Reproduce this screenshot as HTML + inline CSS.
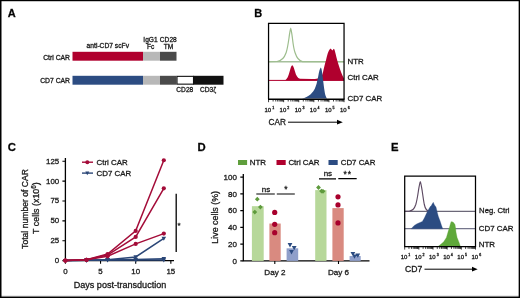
<!DOCTYPE html>
<html><head><meta charset="utf-8">
<style>
html,body{margin:0;padding:0;background:#fff;}
body{width:520px;height:298px;overflow:hidden;position:relative;}
svg{display:block;filter:blur(0.45px);}
text{font-family:"Liberation Sans",sans-serif;fill:#1a1a1a;stroke:#1a1a1a;stroke-width:0.3px;}
.b{font-weight:bold;fill:#000;}
</style></head>
<body>
<svg width="520" height="298" viewBox="0 0 520 298">
<rect x="0" y="0" width="520" height="298" fill="#fff"/>
<text class="b" x="7.8" y="16.8" font-size="11">A</text>
<text x="107.8" y="48.1" font-size="6.7" text-anchor="middle">anti-CD7 scFv</text>
<text x="150.5" y="42" font-size="6.6" text-anchor="middle">IgG1</text>
<text x="150.6" y="48.8" font-size="6.6" text-anchor="middle">Fc</text>
<text x="168.3" y="42" font-size="6.6" text-anchor="middle">CD28</text>
<text x="168.5" y="49" font-size="6.6" text-anchor="middle">TM</text>
<text x="70" y="59.5" font-size="6.8" text-anchor="end">Ctrl CAR</text>
<text x="70" y="83.2" font-size="6.8" text-anchor="end">CD7 CAR</text>
<rect x="72.5" y="51.8" width="70.5" height="8.9" fill="#b0002e"/>
<rect x="143" y="51.8" width="17" height="8.9" fill="#b8b8b8"/>
<rect x="160" y="51.8" width="16.5" height="8.9" fill="#4a4a4a"/>
<rect x="72.5" y="75.8" width="70.5" height="8.9" fill="#2c4c82"/>
<rect x="143" y="75.8" width="17" height="8.9" fill="#b8b8b8"/>
<rect x="160" y="75.8" width="16.5" height="8.9" fill="#4a4a4a"/>
<rect x="177" y="76.35" width="16.5" height="7.8" fill="#fff" stroke="#111" stroke-width="1.1"/>
<rect x="193.3" y="75.8" width="30.2" height="8.9" fill="#111"/>
<text x="184.8" y="91.9" font-size="6.6" text-anchor="middle">CD28</text>
<text x="200" y="91.9" font-size="6.6">CD3ζ</text>
<text class="b" x="254.2" y="17.0" font-size="11">B</text>
<line x1="268.55" y1="61.75" x2="344" y2="61.75" stroke="#a6c09c" stroke-width="1.3"/>
<path d="M268.55,61.75 L277,61.5 C281,61 284.5,57.5 286.2,52.5 C287,50 288,45 289,38 C289.6,33.5 290.1,29.5 290.7,28.6 C291.3,29.5 291.8,33.5 292.4,38 C293.2,45 294.1,50 295,52.5 C296.6,57.5 299,61 302.5,61.6 L344,61.75" fill="none" stroke="#9dbd8d" stroke-width="1.2"/>
<path d="M268.5,80.4 L285,80.2 C287.5,79.5 289,74 290.5,68.5 C291.3,65.8 292,65.2 292.6,65.4 C293.4,65.8 294,68 295,71.5 C296,75.5 297.5,78 300,78.8 L312,79 C314,78.9 316,78.7 317.8,78.4 C319.5,77.8 320.8,77 321.7,75.9 C322.6,74 323.1,72 323.6,69.5 C324.2,67 324.7,65 325.2,63.1 C325.8,61 326.3,59 326.8,56.8 C327.4,54.5 328,52.5 328.7,51 L329.6,49.5 L330.6,48.5 L331.5,49.5 L332.5,50.4 L333.3,49.2 L334,48.8 L334.6,50 L335,51.6 C335.5,53.5 336,55.2 336.3,56.8 C336.9,59 337.4,61 338,63.1 C338.7,65.5 339.4,67.5 340.1,69.5 C341,72 341.8,74 342.7,75.9 L344,78.4 L344,80.4 Z" fill="#b0002e"/>
<line x1="268.55" y1="80.4" x2="344" y2="80.4" stroke="#b0002e" stroke-width="1"/>
<path d="M302,98.6 C305,98 308,96.5 310.7,94.2 C312.5,92.5 314,90.5 314.8,88.8 C315.5,87 316,85.5 316.6,83.8 C317.2,81 317.8,78.5 318.3,76 C319,72 319.8,68.5 320.8,67.6 C321.6,68.5 322,71.5 322.5,75.4 C323.1,80 323.7,85 324.2,88.8 C324.7,92 325.1,94.5 325.6,95.8 C326,97 326.5,98 327.2,98.6 Z" fill="#2c4c82"/>
<path d="M268.55,99.2 L268.55,23.4 L344.05,23.4 L344.05,99.2" fill="none" stroke="#000" stroke-width="1.25"/>
<line x1="268" y1="99.2" x2="344.6" y2="99.2" stroke="#000" stroke-width="1.4"/>
<path d="M268.55,99.6 v2.6 M273.10,99.6 v1.9 M275.75,99.6 v1.9 M277.64,99.6 v1.9 M279.10,99.6 v1.9 M280.30,99.6 v1.9 M281.31,99.6 v1.9 M282.19,99.6 v1.9 M282.96,99.6 v1.9 M283.65,99.6 v2.6 M288.20,99.6 v1.9 M290.85,99.6 v1.9 M292.74,99.6 v1.9 M294.20,99.6 v1.9 M295.40,99.6 v1.9 M296.41,99.6 v1.9 M297.29,99.6 v1.9 M298.06,99.6 v1.9 M298.75,99.6 v2.6 M303.30,99.6 v1.9 M305.95,99.6 v1.9 M307.84,99.6 v1.9 M309.30,99.6 v1.9 M310.50,99.6 v1.9 M311.51,99.6 v1.9 M312.39,99.6 v1.9 M313.16,99.6 v1.9 M313.85,99.6 v2.6 M318.40,99.6 v1.9 M321.05,99.6 v1.9 M322.94,99.6 v1.9 M324.40,99.6 v1.9 M325.60,99.6 v1.9 M326.61,99.6 v1.9 M327.49,99.6 v1.9 M328.26,99.6 v1.9 M328.95,99.6 v2.6 M333.50,99.6 v1.9 M336.15,99.6 v1.9 M338.04,99.6 v1.9 M339.50,99.6 v1.9 M340.70,99.6 v1.9 M341.71,99.6 v1.9 M342.59,99.6 v1.9 M343.36,99.6 v1.9 M344.05,99.6 v2.6" stroke="#000" stroke-width="0.75" fill="none"/>
<text x="347.5" y="64.0" font-size="7.9">NTR</text>
<text x="347.5" y="80.0" font-size="7.9">Ctrl CAR</text>
<text x="347.5" y="100.7" font-size="7.9">CD7 CAR</text>
<g font-size="6.0"><text x="264.51" y="112.3">10<tspan font-size="3.6" dx="1.0" dy="-3.0">1</tspan></text><text x="279.61" y="112.3">10<tspan font-size="3.6" dx="1.0" dy="-3.0">2</tspan></text><text x="294.71" y="112.3">10<tspan font-size="3.6" dx="1.0" dy="-3.0">3</tspan></text><text x="309.81" y="112.3">10<tspan font-size="3.6" dx="1.0" dy="-3.0">4</tspan></text><text x="324.91" y="112.3">10<tspan font-size="3.6" dx="1.0" dy="-3.0">5</tspan></text><text x="340.01" y="112.3">10<tspan font-size="3.6" dx="1.0" dy="-3.0">6</tspan></text></g>
<text transform="translate(268.6,124.8) scale(0.86,1)" font-size="9.6">CAR</text>
<line x1="288" y1="122.2" x2="339" y2="122.2" stroke="#000" stroke-width="1"/>
<path d="M342.8,122.2 L337,119.8 L337,124.6 Z" fill="#000"/>
<text class="b" x="7.8" y="150.5" font-size="11.3">C</text>
<path d="M65.4,158 V260.6 H174" fill="none" stroke="#000" stroke-width="1.3"/>
<path d="M62.400000000000006,260.60 H65.4 M62.400000000000006,240.74 H65.4 M62.400000000000006,220.88 H65.4 M62.400000000000006,201.02 H65.4 M62.400000000000006,181.16 H65.4 M62.400000000000006,161.30 H65.4 M65.40,260.6 V263.8 M100.55,260.6 V263.8 M135.70,260.6 V263.8 M170.85,260.6 V263.8" stroke="#000" stroke-width="1.1" fill="none"/>
<g font-size="7.9" text-anchor="end">
<text x="59.2" y="263.00">0</text>
<text x="59.2" y="243.14">25</text>
<text x="59.2" y="223.28">50</text>
<text x="59.2" y="203.42">75</text>
<text x="59.2" y="183.56">100</text>
<text x="59.2" y="163.70">125</text>
</g><g font-size="7.9" text-anchor="middle">
<text x="65.40" y="274.2">0</text>
<text x="100.55" y="274.2">5</text>
<text x="135.70" y="274.2">10</text>
<text x="170.85" y="274.2">15</text>
</g>
<text x="120" y="288.1" font-size="9.05" text-anchor="middle">Days post-transduction</text>
<text transform="translate(27.6,209) rotate(-90)" font-size="8.6" text-anchor="middle">Total number of CAR</text>
<text transform="translate(39.4,208.1) rotate(-90)" font-size="8.9" text-anchor="middle">T cells (x10<tspan font-size="6.3" dy="-3.3">6</tspan><tspan dy="3.3">)</tspan></text>
<polyline points="65.40,260.60 86.49,260.20 107.58,259.65 135.70,256.95 163.82,238.36" fill="none" stroke="#2a4677" stroke-width="1.5"/>
<path d="M63.10,258.88 L67.70,258.88 L65.40,263.02 Z M84.19,258.48 L88.79,258.48 L86.49,262.62 Z M105.28,257.92 L109.88,257.92 L107.58,262.06 Z M133.40,255.22 L138.00,255.22 L135.70,259.36 Z M161.52,236.63 L166.12,236.63 L163.82,240.77 Z" fill="#2a4677"/>
<polyline points="65.40,260.60 86.49,260.28 107.58,259.89 135.70,259.57 163.82,258.69" fill="none" stroke="#2a4677" stroke-width="1.5"/>
<path d="M63.10,258.88 L67.70,258.88 L65.40,263.02 Z M84.19,258.56 L88.79,258.56 L86.49,262.70 Z M105.28,258.16 L109.88,258.16 L107.58,262.30 Z M133.40,257.84 L138.00,257.84 L135.70,261.98 Z M161.52,256.97 L166.12,256.97 L163.82,261.11 Z" fill="#2a4677"/>
<polyline points="65.40,260.60 86.49,260.36 107.58,260.12 135.70,260.12 163.82,259.96" fill="none" stroke="#2a4677" stroke-width="1.5"/>
<path d="M63.10,258.88 L67.70,258.88 L65.40,263.02 Z M84.19,258.64 L88.79,258.64 L86.49,262.78 Z M105.28,258.40 L109.88,258.40 L107.58,262.54 Z M133.40,258.40 L138.00,258.40 L135.70,262.54 Z M161.52,258.24 L166.12,258.24 L163.82,262.38 Z" fill="#2a4677"/>
<polyline points="65.40,260.60 86.49,259.81 107.58,254.01 135.70,230.89 163.82,160.27" fill="none" stroke="#a40c39" stroke-width="1.5"/>
<circle cx="65.40" cy="260.60" r="2.1" fill="#a40c39"/>
<circle cx="86.49" cy="259.81" r="2.1" fill="#a40c39"/>
<circle cx="107.58" cy="254.01" r="2.1" fill="#a40c39"/>
<circle cx="135.70" cy="230.89" r="2.1" fill="#a40c39"/>
<circle cx="163.82" cy="160.27" r="2.1" fill="#a40c39"/>
<polyline points="65.40,260.60 86.49,259.81 107.58,255.04 135.70,236.93 163.82,188.31" fill="none" stroke="#a40c39" stroke-width="1.5"/>
<circle cx="65.40" cy="260.60" r="2.1" fill="#a40c39"/>
<circle cx="86.49" cy="259.81" r="2.1" fill="#a40c39"/>
<circle cx="107.58" cy="255.04" r="2.1" fill="#a40c39"/>
<circle cx="135.70" cy="236.93" r="2.1" fill="#a40c39"/>
<circle cx="163.82" cy="188.31" r="2.1" fill="#a40c39"/>
<polyline points="65.40,260.60 86.49,259.81 107.58,256.31 135.70,243.92 163.82,233.59" fill="none" stroke="#a40c39" stroke-width="1.5"/>
<circle cx="65.40" cy="260.60" r="2.1" fill="#a40c39"/>
<circle cx="86.49" cy="259.81" r="2.1" fill="#a40c39"/>
<circle cx="107.58" cy="256.31" r="2.1" fill="#a40c39"/>
<circle cx="135.70" cy="243.92" r="2.1" fill="#a40c39"/>
<circle cx="163.82" cy="233.59" r="2.1" fill="#a40c39"/>
<line x1="82" y1="162.2" x2="93" y2="162.2" stroke="#a40c39" stroke-width="1.4"/><circle cx="87.3" cy="162.2" r="2" fill="#a40c39"/>
<line x1="82" y1="173.1" x2="93" y2="173.1" stroke="#2a4677" stroke-width="1.4"/><path d="M85.30,171.60 L89.30,171.60 L87.30,175.20 Z" fill="#2a4677"/>
<text x="96.5" y="164.9" font-size="7.9">Ctrl CAR</text>
<text x="96.5" y="175.8" font-size="7.9">CD7 CAR</text>
<line x1="176.2" y1="193.8" x2="176.2" y2="252" stroke="#000" stroke-width="1.3"/>
<text x="179.1" y="227.8" font-size="8" text-anchor="middle">*</text>
<text class="b" x="197.5" y="150.5" font-size="11.3">D</text>
<path d="M243.3,173.9 V260.9 H369.5" fill="none" stroke="#000" stroke-width="1.3"/>
<path d="M240.3,260.90 H243.3 M240.3,244.14 H243.3 M240.3,227.38 H243.3 M240.3,210.62 H243.3 M240.3,193.86 H243.3 M240.3,177.10 H243.3 M274.8,260.9 V263.9 M338.5,260.9 V263.9" stroke="#000" stroke-width="1.1" fill="none"/>
<g font-size="8" text-anchor="end">
<text x="236.9" y="263.70">0</text>
<text x="236.9" y="246.94">20</text>
<text x="236.9" y="230.18">40</text>
<text x="236.9" y="213.42">60</text>
<text x="236.9" y="196.66">80</text>
<text x="236.9" y="179.90">100</text>
</g>
<text x="274.9" y="275.1" font-size="8.1" text-anchor="middle">Day 2</text>
<text x="338.5" y="275.1" font-size="8.1" text-anchor="middle">Day 6</text>
<text transform="translate(218.4,217.3) rotate(-90)" font-size="8.9" text-anchor="middle">Live cells (%)</text>
<rect x="251.9" y="206.18" width="11.8" height="54.72" fill="#b7d89a"/>
<rect x="269.4" y="223.53" width="11.3" height="37.37" fill="#d98a80"/>
<rect x="286.6" y="248.33" width="11.6" height="12.57" fill="#8f9fca"/>
<rect x="315.2" y="190.09" width="11.3" height="70.81" fill="#b7d89a"/>
<rect x="332.4" y="208.11" width="11.3" height="52.79" fill="#d98a80"/>
<rect x="349.6" y="256.04" width="11.1" height="4.86" fill="#8f9fca"/>
<path d="M257.3,196.80 L259.70,199.2 L257.3,201.60 L254.90,199.2 Z M260.4,204.70 L262.80,207.1 L260.4,209.50 L258.00,207.1 Z M254.8,209.70 L257.20,212.1 L254.8,214.50 L252.40,212.1 Z M318.5,185.10 L320.90,187.5 L318.5,189.90 L316.10,187.5 Z M321.5,188.70 L323.90,191.1 L321.5,193.50 L319.10,191.1 Z M323.0,188.90 L325.40,191.3 L323.0,193.70 L320.60,191.3 Z" fill="#5e9a3c"/>
<circle cx="274.7" cy="212.4" r="2.6" fill="#a8002c"/>
<circle cx="274.7" cy="224.3" r="2.6" fill="#a8002c"/>
<circle cx="274.7" cy="232.7" r="2.6" fill="#a8002c"/>
<circle cx="338" cy="196.8" r="2.6" fill="#a8002c"/>
<circle cx="338" cy="204.9" r="2.6" fill="#a8002c"/>
<circle cx="338" cy="222.9" r="2.6" fill="#a8002c"/>
<path d="M287.60,243.10 L292.40,243.10 L290.00,247.40 Z M291.80,245.90 L296.60,245.90 L294.20,250.20 Z M289.10,250.10 L293.90,250.10 L291.50,254.40 Z M350.50,251.90 L355.30,251.90 L352.90,256.20 Z M355.40,253.40 L360.20,253.40 L357.80,257.70 Z M352.10,254.50 L356.90,254.50 L354.50,258.80 Z" fill="#2c4c82"/>
<path d="M256.3,194 H274.8 M276.8,194 H294.8 M319,178.8 H336 M338.3,178.6 H356.7" stroke="#000" stroke-width="1.2" fill="none"/>
<text x="266" y="191.7" font-size="8" text-anchor="middle">ns</text>
<text x="327.9" y="176.4" font-size="8" text-anchor="middle">ns</text>
<text x="285.8" y="192.3" font-size="8.5" text-anchor="middle">*</text>
<text x="347.7" y="177.3" font-size="8.5" letter-spacing="1" text-anchor="middle">**</text>
<rect x="238" y="160.0" width="9.1" height="5.0" fill="#5f9e3c"/>
<rect x="276.5" y="160.0" width="9.2" height="5.0" fill="#b0002e"/>
<rect x="328.5" y="160.0" width="9.2" height="5.0" fill="#2c4c82"/>
<text x="249.8" y="165.2" font-size="7.9">NTR</text>
<text x="288.4" y="165.2" font-size="7.9">Ctrl CAR</text>
<text x="340.7" y="165.2" font-size="7.9">CD7 CAR</text>
<text class="b" x="390.9" y="150.5" font-size="11.3">E</text>
<line x1="404.6" y1="211.3" x2="475.5" y2="211.3" stroke="#6c6878" stroke-width="1.2"/>
<line x1="404.6" y1="228.7" x2="475.5" y2="228.7" stroke="#75768c" stroke-width="1.2"/>
<path d="M404.6,211.3 L409.5,211.1 C412.5,210.7 414.5,208.5 415.8,204.5 C416.8,201 417.6,196.5 418.4,191 C419.1,186.5 419.7,182.5 420.3,181.8 C420.9,182.5 421.5,186.5 422.2,191 C423,196.5 423.6,201 424.3,204.5 C425.2,208.5 426.5,210.9 429,211.2 L432,211.3" fill="none" stroke="#5d4a63" stroke-width="1.15"/>
<path d="M411.2,228.8 L412.6,227.2 L414.3,225.4 L417.1,223.7 L420,222.5 L422.3,221.4 L423.5,219.6 L424.6,217.4 L426.8,212.8 L428.5,209.4 L430.3,206.6 L431.4,205.6 L432,204.3 L433.3,202.3 L434.1,204.2 L434.8,205.4 L436,207.1 L436.6,209.5 L437.1,211.7 L438.3,216.3 L440,220.8 L441.7,226 L442.8,228.8 Z" fill="#2c4c82" stroke="#2c4c82" stroke-width="0.3" stroke-linejoin="round"/>
<path d="M438.3,246.3 L440.5,244.6 L443.7,241.8 L446.4,237.5 L448,232.1 L449.6,226.8 L450.5,223.5 L451.2,221.4 L452,222.2 L452.8,221.8 L453.9,223 L455,224.6 L455.6,228 L456,232.1 L457.1,237.5 L459.3,242.9 L460.3,246.3 Z" fill="#5fa83a" stroke="#5fa83a" stroke-width="0.3" stroke-linejoin="round"/>
<path d="M404.7,246.6 L404.7,176 L475.5,176 L475.5,246.6" fill="none" stroke="#000" stroke-width="1.25"/>
<line x1="404.1" y1="246.6" x2="476.1" y2="246.6" stroke="#000" stroke-width="1.4"/>
<path d="M404.70,247 v2.6 M408.96,247 v1.9 M411.46,247 v1.9 M413.23,247 v1.9 M414.60,247 v1.9 M415.72,247 v1.9 M416.67,247 v1.9 M417.49,247 v1.9 M418.21,247 v1.9 M418.86,247 v2.6 M423.12,247 v1.9 M425.62,247 v1.9 M427.39,247 v1.9 M428.76,247 v1.9 M429.88,247 v1.9 M430.83,247 v1.9 M431.65,247 v1.9 M432.37,247 v1.9 M433.02,247 v2.6 M437.28,247 v1.9 M439.78,247 v1.9 M441.55,247 v1.9 M442.92,247 v1.9 M444.04,247 v1.9 M444.99,247 v1.9 M445.81,247 v1.9 M446.53,247 v1.9 M447.18,247 v2.6 M451.44,247 v1.9 M453.94,247 v1.9 M455.71,247 v1.9 M457.08,247 v1.9 M458.20,247 v1.9 M459.15,247 v1.9 M459.97,247 v1.9 M460.69,247 v1.9 M461.34,247 v2.6 M465.60,247 v1.9 M468.10,247 v1.9 M469.87,247 v1.9 M471.24,247 v1.9 M472.36,247 v1.9 M473.31,247 v1.9 M474.13,247 v1.9 M474.85,247 v1.9 M475.50,247 v2.6" stroke="#000" stroke-width="0.75" fill="none"/>
<g font-size="6.0"><text x="400.66" y="259.4">10<tspan font-size="3.6" dx="1.0" dy="-3.0">1</tspan></text><text x="414.82" y="259.4">10<tspan font-size="3.6" dx="1.0" dy="-3.0">2</tspan></text><text x="428.98" y="259.4">10<tspan font-size="3.6" dx="1.0" dy="-3.0">3</tspan></text><text x="443.14" y="259.4">10<tspan font-size="3.6" dx="1.0" dy="-3.0">4</tspan></text><text x="457.30" y="259.4">10<tspan font-size="3.6" dx="1.0" dy="-3.0">5</tspan></text><text x="471.46" y="259.4">10<tspan font-size="3.6" dx="1.0" dy="-3.0">6</tspan></text></g>
<text x="479.1" y="213.3" font-size="7.7">Neg. Ctrl</text>
<text x="478.8" y="231.3" font-size="7.9">CD7 CAR</text>
<text x="478.8" y="247.3" font-size="7.9">NTR</text>
<text x="405" y="272.3" font-size="8.6">CD7</text>
<line x1="424.5" y1="269.2" x2="474" y2="269.2" stroke="#000" stroke-width="1"/>
<path d="M477.7,269.2 L472,266.8 L472,271.6 Z" fill="#000"/>
</svg>
<svg width="520" height="298" viewBox="0 0 520 298" style="position:absolute;left:0;top:0;filter:none" shape-rendering="crispEdges">
<rect x="0" y="1" width="520" height="1" fill="#000" opacity="0.22"/>
<rect x="0" y="296" width="520" height="1" fill="#000" opacity="0.5"/>
<rect x="0" y="295" width="520" height="1" fill="#000" opacity="0.08"/>
<rect x="1" y="0" width="1" height="298" fill="#000" opacity="0.5"/>
<rect x="518" y="0" width="1" height="298" fill="#000" opacity="0.35"/>
<rect x="0" y="0" width="520" height="1" fill="#000"/>
<rect x="0" y="297" width="520" height="1" fill="#000"/>
<rect x="0" y="0" width="1" height="298" fill="#000"/>
<rect x="519" y="0" width="1" height="298" fill="#000"/>
</svg>
</body></html>
